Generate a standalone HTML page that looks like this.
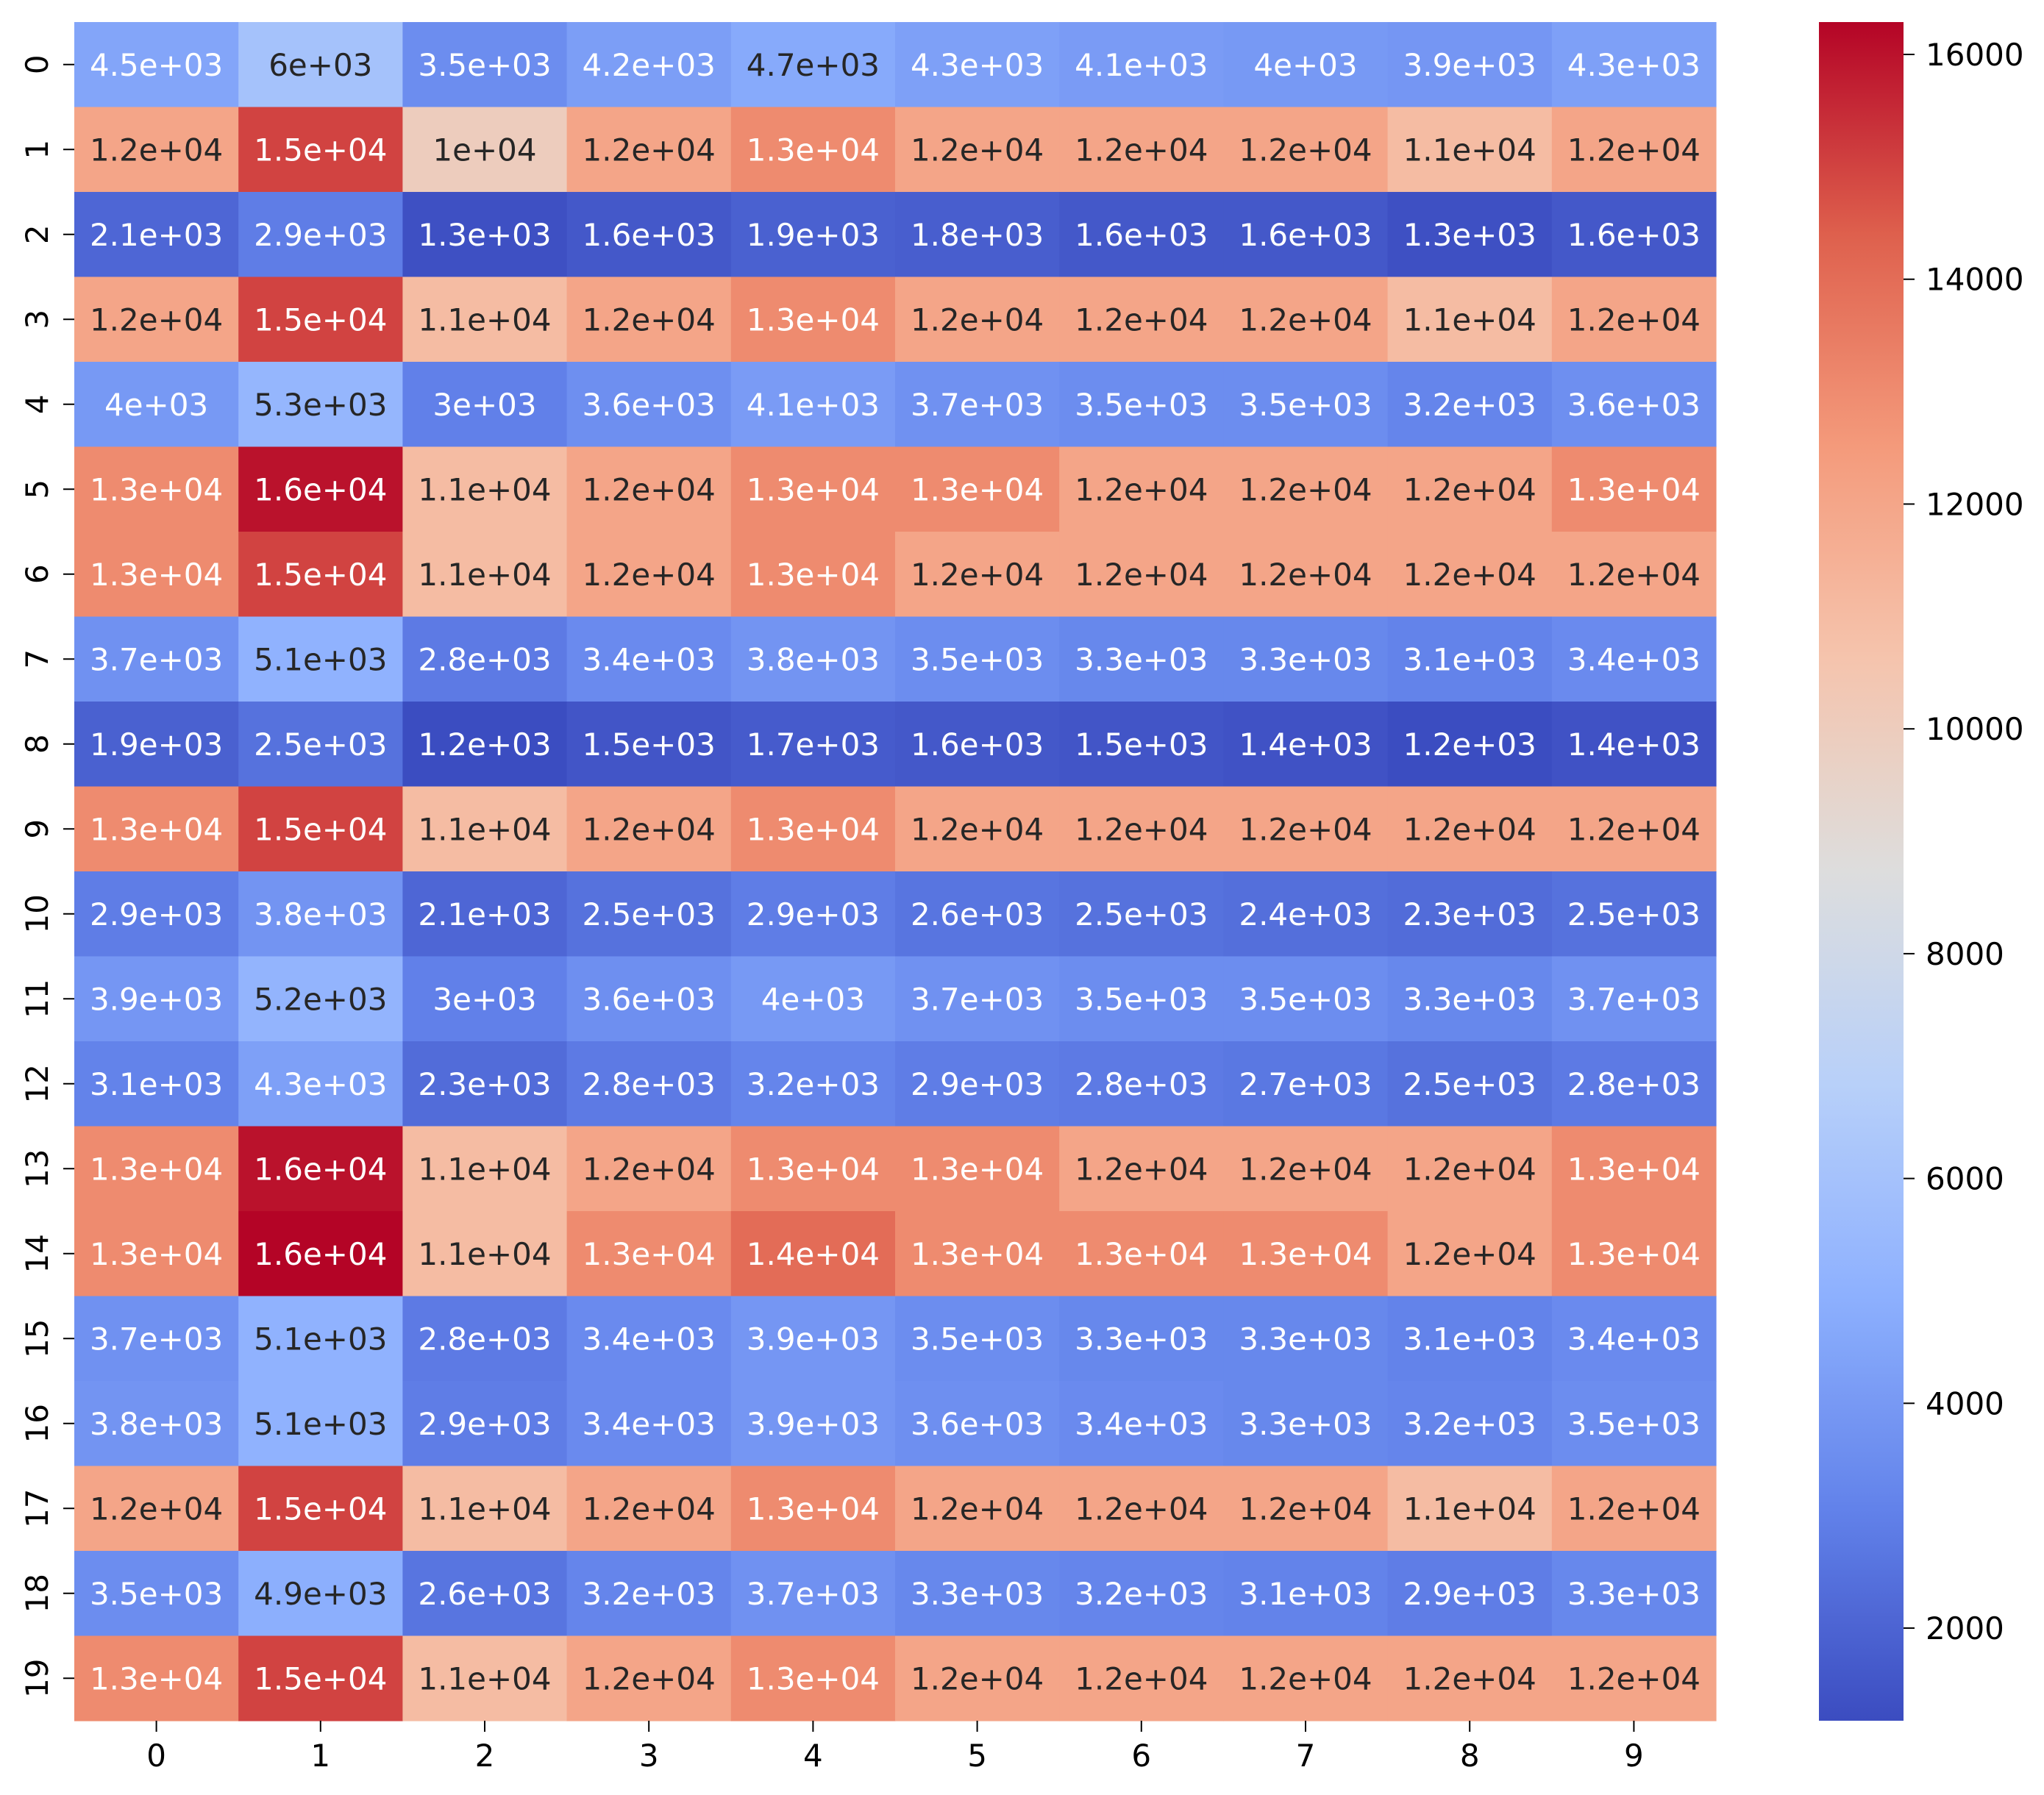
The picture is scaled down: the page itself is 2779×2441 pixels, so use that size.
<!DOCTYPE html>
<html><head><meta charset="utf-8"><style>
html,body{margin:0;padding:0;background:#fff;}
svg{display:block;font-family:"DejaVu Sans","Liberation Sans",sans-serif;}
</style></head><body>
<svg id="chart" width="2779" height="2441" viewBox="0 0 2779 2441" xmlns="http://www.w3.org/2000/svg">
<defs><linearGradient id="cbgrad" x1="0" y1="1" x2="0" y2="0"></linearGradient></defs>
<g id="cells"></g>
<g id="annots"></g>
<g id="yaxis"></g>
<g id="xaxis"></g>
<g id="cbar"></g>
</svg>
<script>
const rowLabels = ["0","1","2","3","4","5","6","7","8","9","10","11","12","13","14","15","16","17","18","19"];
const colLabels = ["0","1","2","3","4","5","6","7","8","9"];
const values = [
[4500,6000,3500,4200,4700,4300,4100,4000,3900,4300],
[12000,15000,10000,12000,13000,12000,12000,12000,11000,12000],
[2100,2900,1300,1600,1900,1800,1600,1600,1300,1600],
[12000,15000,11000,12000,13000,12000,12000,12000,11000,12000],
[4000,5300,3000,3600,4100,3700,3500,3500,3200,3600],
[13000,16000,11000,12000,13000,13000,12000,12000,12000,13000],
[13000,15000,11000,12000,13000,12000,12000,12000,12000,12000],
[3700,5100,2800,3400,3800,3500,3300,3300,3100,3400],
[1900,2500,1200,1500,1700,1600,1500,1400,1200,1400],
[13000,15000,11000,12000,13000,12000,12000,12000,12000,12000],
[2900,3800,2100,2500,2900,2600,2500,2400,2300,2500],
[3900,5200,3000,3600,4000,3700,3500,3500,3300,3700],
[3100,4300,2300,2800,3200,2900,2800,2700,2500,2800],
[13000,16000,11000,12000,13000,13000,12000,12000,12000,13000],
[13000,16288,11000,13000,14000,13000,13000,13000,12000,13000],
[3700,5100,2800,3400,3900,3500,3300,3300,3100,3400],
[3800,5100,2900,3400,3900,3600,3400,3300,3200,3500],
[12000,15000,11000,12000,13000,12000,12000,12000,11000,12000],
[3500,4900,2600,3200,3700,3300,3200,3100,2900,3300],
[13000,15000,11000,12000,13000,12000,12000,12000,12000,12000]
];
const annotText = [
["4.5e+03","6e+03","3.5e+03","4.2e+03","4.7e+03","4.3e+03","4.1e+03","4e+03","3.9e+03","4.3e+03"],
["1.2e+04","1.5e+04","1e+04","1.2e+04","1.3e+04","1.2e+04","1.2e+04","1.2e+04","1.1e+04","1.2e+04"],
["2.1e+03","2.9e+03","1.3e+03","1.6e+03","1.9e+03","1.8e+03","1.6e+03","1.6e+03","1.3e+03","1.6e+03"],
["1.2e+04","1.5e+04","1.1e+04","1.2e+04","1.3e+04","1.2e+04","1.2e+04","1.2e+04","1.1e+04","1.2e+04"],
["4e+03","5.3e+03","3e+03","3.6e+03","4.1e+03","3.7e+03","3.5e+03","3.5e+03","3.2e+03","3.6e+03"],
["1.3e+04","1.6e+04","1.1e+04","1.2e+04","1.3e+04","1.3e+04","1.2e+04","1.2e+04","1.2e+04","1.3e+04"],
["1.3e+04","1.5e+04","1.1e+04","1.2e+04","1.3e+04","1.2e+04","1.2e+04","1.2e+04","1.2e+04","1.2e+04"],
["3.7e+03","5.1e+03","2.8e+03","3.4e+03","3.8e+03","3.5e+03","3.3e+03","3.3e+03","3.1e+03","3.4e+03"],
["1.9e+03","2.5e+03","1.2e+03","1.5e+03","1.7e+03","1.6e+03","1.5e+03","1.4e+03","1.2e+03","1.4e+03"],
["1.3e+04","1.5e+04","1.1e+04","1.2e+04","1.3e+04","1.2e+04","1.2e+04","1.2e+04","1.2e+04","1.2e+04"],
["2.9e+03","3.8e+03","2.1e+03","2.5e+03","2.9e+03","2.6e+03","2.5e+03","2.4e+03","2.3e+03","2.5e+03"],
["3.9e+03","5.2e+03","3e+03","3.6e+03","4e+03","3.7e+03","3.5e+03","3.5e+03","3.3e+03","3.7e+03"],
["3.1e+03","4.3e+03","2.3e+03","2.8e+03","3.2e+03","2.9e+03","2.8e+03","2.7e+03","2.5e+03","2.8e+03"],
["1.3e+04","1.6e+04","1.1e+04","1.2e+04","1.3e+04","1.3e+04","1.2e+04","1.2e+04","1.2e+04","1.3e+04"],
["1.3e+04","1.6e+04","1.1e+04","1.3e+04","1.4e+04","1.3e+04","1.3e+04","1.3e+04","1.2e+04","1.3e+04"],
["3.7e+03","5.1e+03","2.8e+03","3.4e+03","3.9e+03","3.5e+03","3.3e+03","3.3e+03","3.1e+03","3.4e+03"],
["3.8e+03","5.1e+03","2.9e+03","3.4e+03","3.9e+03","3.6e+03","3.4e+03","3.3e+03","3.2e+03","3.5e+03"],
["1.2e+04","1.5e+04","1.1e+04","1.2e+04","1.3e+04","1.2e+04","1.2e+04","1.2e+04","1.1e+04","1.2e+04"],
["3.5e+03","4.9e+03","2.6e+03","3.2e+03","3.7e+03","3.3e+03","3.2e+03","3.1e+03","2.9e+03","3.3e+03"],
["1.3e+04","1.5e+04","1.1e+04","1.2e+04","1.3e+04","1.2e+04","1.2e+04","1.2e+04","1.2e+04","1.2e+04"]
];
const cbTicks = [2000,4000,6000,8000,10000,12000,14000,16000];
const vMin = 1176, vMax = 16288;

const NS = "http://www.w3.org/2000/svg";
const L = 101, T = 30, R = 2333, B = 2340;
const cw = (R - L) / colLabels.length, rh = (B - T) / rowLabels.length;
const xPos = i => L + i * cw;
const yPos = j => T + j * rh;
const CB_L = 2473, CB_R = 2588;
const cbY = v => B - (v - vMin) / (vMax - vMin) * (B - T);

const stops = [[59,76,192],[98,130,234],[141,176,254],[184,208,249],[221,221,221],[245,196,173],[244,154,123],[222,96,77],[180,4,38]];
function cmap(t){
  t = Math.max(0, Math.min(1, t));
  const p = t * (stops.length - 1), i = Math.min(Math.floor(p), stops.length - 2), f = p - i;
  return stops[i].map((c, k) => Math.round(c + (stops[i+1][k] - c) * f));
}
function lum(rgb){
  const c = rgb.map(v => { v /= 255; return v <= 0.03928 ? v / 12.92 : Math.pow((v + 0.055) / 1.055, 2.4); });
  return 0.2126 * c[0] + 0.7152 * c[1] + 0.0722 * c[2];
}
function mk(tag, attrs, parent){
  const e = document.createElementNS(NS, tag);
  for (const k in attrs) e.setAttribute(k, attrs[k]);
  parent.appendChild(e); return e;
}
const gCells = document.getElementById('cells'), gAnn = document.getElementById('annots');
values.forEach((row, j) => row.forEach((v, i) => {
  const rgb = cmap((v - vMin) / (vMax - vMin));
  const r = mk('rect', {x: xPos(i), y: yPos(j), width: cw + 0.6, height: rh + 0.6, fill: `rgb(${rgb})`}, gCells);
  
  
  const t = mk('text', {x: xPos(i) + cw/2, y: yPos(j) + rh/2 + 15, 'text-anchor': 'middle', 'font-size': 42, fill: lum(rgb) > 0.408 ? '#262626' : '#ffffff'}, gAnn);
  t.textContent = annotText[j][i];
  
  
}));
const gY = document.getElementById('yaxis');
rowLabels.forEach((lab, j) => {
  const cy = yPos(j) + rh/2;
  const tk = mk('line', {x1: L - 15, x2: L, y1: cy, y2: cy, stroke: '#000', 'stroke-width': 2}, gY);
  
  
  const t = mk('text', {x: 0, y: 0, transform: `translate(65,${cy}) rotate(-90)`, 'text-anchor': 'middle', 'font-size': 42, fill: '#000'}, gY);
  t.textContent = lab;
  
  
});
const gX = document.getElementById('xaxis');
colLabels.forEach((lab, i) => {
  const cx = xPos(i) + cw/2;
  const tk = mk('line', {x1: cx, x2: cx, y1: B, y2: B + 15, stroke: '#000', 'stroke-width': 2}, gX);
  
  
  const t = mk('text', {x: cx, y: 2402, 'text-anchor': 'middle', 'font-size': 42, fill: '#000'}, gX);
  t.textContent = lab;
  
  
});
const grad = document.getElementById('cbgrad');
for (let k = 0; k <= 32; k++){
  const rgb = cmap(k / 32);
  mk('stop', {offset: (k / 32), 'stop-color': `rgb(${rgb})`}, grad);
}
const gC = document.getElementById('cbar');
const cb = mk('rect', {x: CB_L, y: T, width: CB_R - CB_L, height: B - T, fill: 'url(#cbgrad)'}, gC);


cbTicks.forEach(v => {
  const y = cbY(v);
  const tk = mk('line', {x1: CB_R, x2: CB_R + 15, y1: y, y2: y, stroke: '#000', 'stroke-width': 2}, gC);
  
  
  const t = mk('text', {x: CB_R + 30, y: y + 15, 'font-size': 42, fill: '#000'}, gC);
  t.textContent = String(v);
  
  
});
</script>
</body></html>
